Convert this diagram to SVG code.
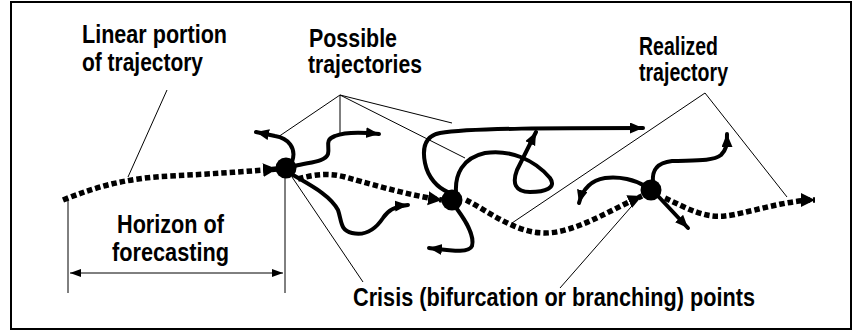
<svg xmlns="http://www.w3.org/2000/svg" width="856" height="333" viewBox="0 0 856 333">
  <defs>
    <style>
      .lbl { font-family: "Liberation Sans", Arial, sans-serif; font-weight: bold; font-size: 25px; fill: #000; }
      .dot { fill: none; stroke: #000; stroke-width: 5.5; stroke-dasharray: 5.5 3; }
      .path { fill: none; stroke: #000; stroke-width: 4; stroke-linecap: round; stroke-linejoin: round; }
      .lead { fill: none; stroke: #000; stroke-width: 1; }
      .pt { fill: #000; }
    </style>
    <marker id="bigHead" markerUnits="userSpaceOnUse" markerWidth="15" markerHeight="15" refX="14" refY="7" orient="auto">
      <path d="M0,0 L14,7 L0,14 z" fill="#000"/>
    </marker>
    <marker id="head" markerUnits="userSpaceOnUse" markerWidth="14" markerHeight="12" refX="13" refY="5.5" orient="auto">
      <path d="M0,0 L13,5.5 L0,11 z" fill="#000"/>
    </marker>
    <marker id="dimHead" markerUnits="userSpaceOnUse" markerWidth="12" markerHeight="10" refX="11" refY="4" orient="auto-start-reverse">
      <path d="M0,0 L11,4 L0,8 z" fill="#000"/>
    </marker>
  </defs>

  <!-- frame -->
  <rect x="11" y="2" width="840" height="327" fill="#fff" stroke="#000" stroke-width="2"/>

  <!-- labels -->
  <g id="label-linear">
    <text class="lbl" x="82" y="43" textLength="145" lengthAdjust="spacingAndGlyphs">Linear portion</text>
    <text class="lbl" x="82" y="71" textLength="121" lengthAdjust="spacingAndGlyphs">of trajectory</text>
  </g>
  <g id="label-possible">
    <text class="lbl" x="309" y="47" textLength="88" lengthAdjust="spacingAndGlyphs">Possible</text>
    <text class="lbl" x="308" y="73" textLength="114" lengthAdjust="spacingAndGlyphs">trajectories</text>
  </g>
  <g id="label-realized">
    <text class="lbl" x="639" y="55" textLength="79" lengthAdjust="spacingAndGlyphs">Realized</text>
    <text class="lbl" x="639" y="81" textLength="89" lengthAdjust="spacingAndGlyphs">trajectory</text>
  </g>
  <g id="label-horizon">
    <text class="lbl" x="117" y="233" textLength="107" lengthAdjust="spacingAndGlyphs">Horizon of</text>
    <text class="lbl" x="112" y="261" textLength="117" lengthAdjust="spacingAndGlyphs">forecasting</text>
  </g>
  <g id="label-crisis">
    <text class="lbl" x="353" y="306" textLength="402" lengthAdjust="spacingAndGlyphs">Crisis (bifurcation or branching) points</text>
  </g>

  <!-- connectors -->
  <g id="connectors">
    <!-- realized trajectory (dotted) -->
    <path class="dot" d="M63,200 C100,185 130,178 170,176 S240,172 277,169" marker-end="url(#bigHead)"/>
    <path class="dot" d="M298,179 C315,174 330,173 345,177 S410,196 442,200" marker-end="url(#bigHead)"/>
    <path class="dot" d="M466,200 C490,212 515,233 545,233 S610,210 642,196" marker-end="url(#bigHead)"/>
    <path class="dot" d="M665,198 C690,210 705,218 725,216 S785,200 815,200" marker-end="url(#bigHead)"/>

    <!-- possible trajectories from the first crisis point -->
    <path class="path" d="M292,162 C297,148 288,138 275,136 L256,132" marker-end="url(#head)"/>
    <path class="path" d="M295,166 C310,162 325,162 328,154 C330,146 324,140 335,136 C345,132 360,132 379,134" marker-end="url(#head)"/>
    <path class="path" d="M293,175 C310,185 330,195 338,210 C342,222 340,230 352,233 C365,236 375,230 383,218 C388,210 395,206 408,205" marker-end="url(#head)"/>

    <!-- possible trajectories from the second crisis point -->
    <path class="path" d="M448,192 C438,188 428,178 425,163 C422,148 425,136 440,133 C470,128 560,128 643,128" marker-end="url(#head)"/>
    <path class="path" d="M456,192 C455,175 462,158 485,153 C510,149 535,160 550,178 C557,188 545,192 530,192 C515,192 512,183 517,170 L536,132" marker-end="url(#head)"/>
    <path class="path" d="M457,209 C465,220 475,235 472,246 C469,253 455,251 429,248" marker-end="url(#head)"/>

    <!-- possible trajectories from the third crisis point -->
    <path class="path" d="M645,186 C635,180 620,176 605,178 C592,180 583,188 579,203" marker-end="url(#head)"/>
    <path class="path" d="M653,182 C652,172 655,163 672,161 C690,160 712,162 721,155 C726,150 727,146 727,134" marker-end="url(#head)"/>
    <path class="path" d="M658,196 L688,228" marker-end="url(#head)"/>

    <!-- leader lines -->
    <path class="lead" d="M167,90 L128,177"/>
    <path class="lead" d="M278,137 L340,95 L340,135 M340,95 L452,123 M340,95 L465,158"/>
    <path class="lead" d="M512,223 L705,93 L787,197"/>
    <path class="lead" d="M363,282 L292,177 M560,288 L638,199"/>

    <!-- horizon of forecasting -->
    <path class="lead" d="M68,200 L68,293 M285,177 L285,293"/>
    <path class="lead" stroke-width="2" d="M70,273 L283,273" marker-start="url(#dimHead)" marker-end="url(#dimHead)"/>
  </g>

  <!-- crisis points -->
  <g id="crisis-1"><circle class="pt" cx="286" cy="168" r="10.5"/></g>
  <g id="crisis-2"><circle class="pt" cx="452" cy="200" r="10.5"/></g>
  <g id="crisis-3"><circle class="pt" cx="651" cy="190" r="10.5"/></g>
</svg>
